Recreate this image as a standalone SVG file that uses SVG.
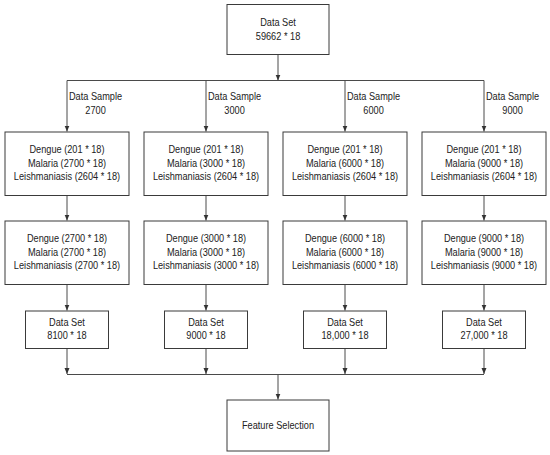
<svg xmlns="http://www.w3.org/2000/svg" width="550" height="455" viewBox="0 0 550 455">
<style>
.box{fill:#fff;stroke:#3a3a3a;stroke-width:1}
.ln{fill:none;stroke:#4a4a4a;stroke-width:1}
text{font-family:"Liberation Sans",Arial,sans-serif;font-size:10.5px;fill:#222;text-anchor:middle;transform-box:fill-box;transform-origin:center;transform:scaleX(0.876)}
</style>
<defs>
<marker id="ah" viewBox="0 0 6 6" refX="6" refY="3" markerWidth="6" markerHeight="6" markerUnits="userSpaceOnUse" orient="auto">
<path d="M0,0.5 L6,3 L0,5.5 Z" fill="#333"/>
</marker>
</defs>
<rect width="550" height="455" fill="#fff"/>
<g id="connectors">
<path class="ln" d="M278,54.5 V80.5" marker-end="url(#ah)"/>
<path class="ln" d="M67,80.5 H484"/>
<path class="ln" d="M67,80.5 V131.5" marker-end="url(#ah)"/>
<path class="ln" d="M206,80.5 V131.5" marker-end="url(#ah)"/>
<path class="ln" d="M345,80.5 V131.5" marker-end="url(#ah)"/>
<path class="ln" d="M484,80.5 V131.5" marker-end="url(#ah)"/>
<path class="ln" d="M67,195.5 V220.5" marker-end="url(#ah)"/>
<path class="ln" d="M206,195.5 V220.5" marker-end="url(#ah)"/>
<path class="ln" d="M345,195.5 V220.5" marker-end="url(#ah)"/>
<path class="ln" d="M484,195.5 V220.5" marker-end="url(#ah)"/>
<path class="ln" d="M67,284.5 V310.5" marker-end="url(#ah)"/>
<path class="ln" d="M206,284.5 V310.5" marker-end="url(#ah)"/>
<path class="ln" d="M345,284.5 V310.5" marker-end="url(#ah)"/>
<path class="ln" d="M484,284.5 V310.5" marker-end="url(#ah)"/>
<path class="ln" d="M67,348.5 V374" marker-end="url(#ah)"/>
<path class="ln" d="M206,348.5 V374" marker-end="url(#ah)"/>
<path class="ln" d="M345,348.5 V374" marker-end="url(#ah)"/>
<path class="ln" d="M484,348.5 V374" marker-end="url(#ah)"/>
<path class="ln" d="M67,374.5 H484"/>
<path class="ln" d="M278,374.5 V399.5" marker-end="url(#ah)"/>
<text x="95.5" y="99.6">Data Sample</text><text x="95.5" y="113.6">2700</text>
<text x="234.5" y="99.6">Data Sample</text><text x="234.5" y="113.6">3000</text>
<text x="373.5" y="99.6">Data Sample</text><text x="373.5" y="113.6">6000</text>
<text x="512.5" y="99.6">Data Sample</text><text x="512.5" y="113.6">9000</text>
</g>
<g id="dataset">
<rect class="box" x="227" y="4.5" width="102" height="50"/>
<text x="278" y="26.4">Data Set</text><text x="278" y="39.7">59662 * 18</text>
</g>
<g id="s1a"><rect class="box" x="5" y="132" width="124" height="63.5"/>
<text x="67" y="153">Dengue (201 * 18)</text><text x="67" y="167">Malaria (2700 * 18)</text><text x="67" y="180.4">Leishmaniasis (2604 * 18)</text></g>
<g id="s2a"><rect class="box" x="144" y="132" width="124" height="63.5"/>
<text x="206" y="153">Dengue (201 * 18)</text><text x="206" y="167">Malaria (3000 * 18)</text><text x="206" y="180.4">Leishmaniasis (2604 * 18)</text></g>
<g id="s3a"><rect class="box" x="283" y="132" width="124" height="63.5"/>
<text x="345" y="153">Dengue (201 * 18)</text><text x="345" y="167">Malaria (6000 * 18)</text><text x="345" y="180.4">Leishmaniasis (2604 * 18)</text></g>
<g id="s4a"><rect class="box" x="422" y="132" width="124" height="63.5"/>
<text x="484" y="153">Dengue (201 * 18)</text><text x="484" y="167">Malaria (9000 * 18)</text><text x="484" y="180.4">Leishmaniasis (2604 * 18)</text></g>
<g id="s1b"><rect class="box" x="5" y="221" width="124" height="63.5"/>
<text x="67" y="242">Dengue (2700 * 18)</text><text x="67" y="256">Malaria (2700 * 18)</text><text x="67" y="269.4">Leishmaniasis (2700 * 18)</text></g>
<g id="s2b"><rect class="box" x="144" y="221" width="124" height="63.5"/>
<text x="206" y="242">Dengue (3000 * 18)</text><text x="206" y="256">Malaria (3000 * 18)</text><text x="206" y="269.4">Leishmaniasis (3000 * 18)</text></g>
<g id="s3b"><rect class="box" x="283" y="221" width="124" height="63.5"/>
<text x="345" y="242">Dengue (6000 * 18)</text><text x="345" y="256">Malaria (6000 * 18)</text><text x="345" y="269.4">Leishmaniasis (6000 * 18)</text></g>
<g id="s4b"><rect class="box" x="422" y="221" width="124" height="63.5"/>
<text x="484" y="242">Dengue (9000 * 18)</text><text x="484" y="256">Malaria (9000 * 18)</text><text x="484" y="269.4">Leishmaniasis (9000 * 18)</text></g>
<g id="d1"><rect class="box" x="25.5" y="311" width="83" height="37.5"/>
<text x="67" y="326">Data Set</text><text x="67" y="339.4">8100 * 18</text></g>
<g id="d2"><rect class="box" x="164.5" y="311" width="83" height="37.5"/>
<text x="206" y="326">Data Set</text><text x="206" y="339.4">9000 * 18</text></g>
<g id="d3"><rect class="box" x="303.5" y="311" width="83" height="37.5"/>
<text x="345" y="326">Data Set</text><text x="345" y="339.4">18,000 * 18</text></g>
<g id="d4"><rect class="box" x="442.5" y="311" width="83" height="37.5"/>
<text x="484" y="326">Data Set</text><text x="484" y="339.4">27,000 * 18</text></g>
<g id="feature"><rect class="box" x="227" y="400" width="102" height="51"/>
<text x="278" y="428.7">Feature Selection</text></g>
</svg>
